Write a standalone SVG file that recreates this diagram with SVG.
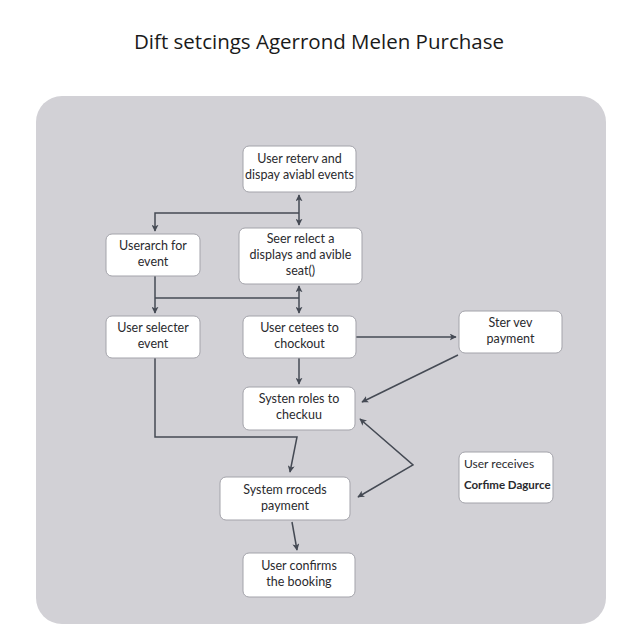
<svg xmlns="http://www.w3.org/2000/svg" width="640" height="640" viewBox="0 0 640 640">
<defs>
<marker id="ah" viewBox="0 0 10 10" refX="9" refY="5" markerWidth="7" markerHeight="7" orient="auto-start-reverse" markerUnits="userSpaceOnUse">
<path d="M0,0 L10,5 L0,10 L2.5,5 Z" fill="#454a54"/>
</marker>
</defs>
<style>
.box{fill:#ffffff;stroke:#a3a3aa;stroke-width:1}
.t{font-family:Lato,"Open Sans","DejaVu Sans",sans-serif;font-size:12.5px;fill:#2a2a2e;text-anchor:middle}
.tl{font-family:Lato,"Open Sans","DejaVu Sans",sans-serif;font-size:12px;fill:#2a2a2e}
.c{fill:none;stroke:#454a54;stroke-width:1.5}
</style>
<rect width="640" height="640" fill="#ffffff"/>
<text x="319" y="49" style="font-family:'Open Sans','DejaVu Sans',sans-serif;font-size:20.5px;fill:#1a1a1a;text-anchor:middle">Dift setcings Agerrond Melen Purchase</text>
<rect x="36" y="96" width="570" height="528" rx="26" fill="#d2d1d6"/>

<g id="connectors">
<path class="c" d="M299,213 L155,213 L155,231" marker-end="url(#ah)"/>
<path class="c" d="M299,195 L299,225" marker-start="url(#ah)" marker-end="url(#ah)"/>
<path class="c" d="M299,286 L299,313" marker-start="url(#ah)" marker-end="url(#ah)"/>
<path class="c" d="M155,276 L155,313" marker-end="url(#ah)"/>
<path class="c" d="M155,298 L299,298"/>
<path class="c" d="M299,358 L299,384" marker-end="url(#ah)"/>
<path class="c" d="M356,337 L456,337" marker-end="url(#ah)"/>
<path class="c" d="M458,355 L362,402" marker-end="url(#ah)"/>
<path class="c" d="M155,358 L155,437 L297,437 L290,472" marker-end="url(#ah)"/>
<path class="c" d="M360,419 L413,465 L358,497" marker-start="url(#ah)" marker-end="url(#ah)"/>
<path class="c" d="M292,522 L297,550" marker-end="url(#ah)"/>
</g>

<g id="n1"><rect class="box" x="243" y="146" width="113" height="46" rx="6"/>
<text class="t" x="299.5" y="163">User reterv and</text><text class="t" x="299.5" y="179">dispay aviabl events</text></g>

<g id="n2"><rect class="box" x="106" y="234" width="94" height="42" rx="6"/>
<text class="t" x="153" y="250">Userarch for</text><text class="t" x="153" y="266">event</text></g>

<g id="n3"><rect class="box" x="239" y="228" width="123" height="56" rx="6"/>
<text class="t" x="300.5" y="243">Seer relect a</text><text class="t" x="300.5" y="259">displays and avible</text><text class="t" x="300.5" y="275">seat()</text></g>

<g id="n4"><rect class="box" x="106" y="316" width="94" height="42" rx="6"/>
<text class="t" x="153" y="332">User selecter</text><text class="t" x="153" y="348">event</text></g>

<g id="n5"><rect class="box" x="243" y="316" width="113" height="42" rx="6"/>
<text class="t" x="299.5" y="332">User cetees to</text><text class="t" x="299.5" y="348">chockout</text></g>

<g id="n6"><rect class="box" x="459" y="311" width="103" height="42" rx="6"/>
<text class="t" x="510.5" y="327">Ster vev</text><text class="t" x="510.5" y="343">payment</text></g>

<g id="n7"><rect class="box" x="243" y="387" width="112" height="43" rx="6"/>
<text class="t" x="299" y="403">Systen roles to</text><text class="t" x="299" y="419">checkuu</text></g>

<g id="n8"><rect class="box" x="459" y="452" width="94" height="51" rx="6"/>
<text class="tl" x="464" y="468">User receives</text><text class="tl" x="464" y="489" style="font-weight:bold;font-size:11.5px">Corfime Dagurce</text></g>

<g id="n9"><rect class="box" x="220" y="477" width="130" height="43" rx="6"/>
<text class="t" x="285" y="494">System rroceds</text><text class="t" x="285" y="510">payment</text></g>

<g id="n10"><rect class="box" x="243" y="553" width="112" height="44" rx="6"/>
<text class="t" x="299" y="570">User confirms</text><text class="t" x="299" y="586">the booking</text></g>
</svg>
